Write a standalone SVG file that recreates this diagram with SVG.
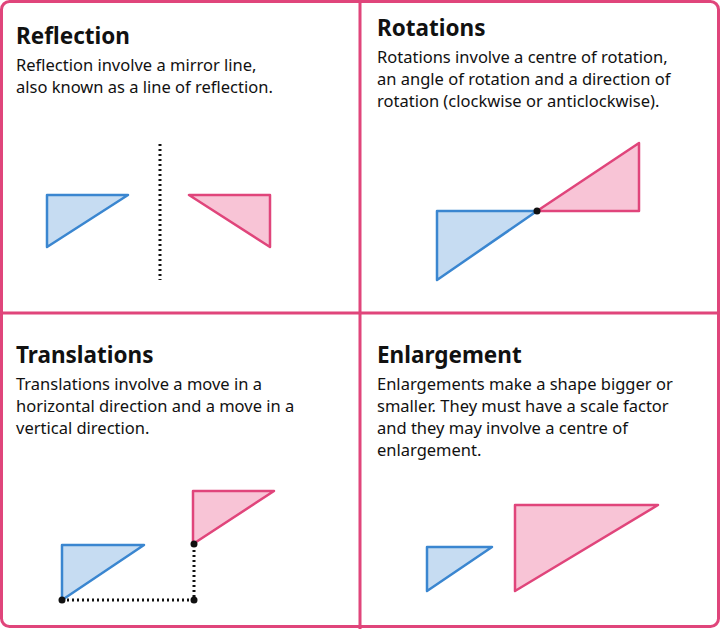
<svg xmlns="http://www.w3.org/2000/svg" width="720" height="629" viewBox="0 0 720 629">
<style>
.t{font-family:"Noto Sans","Liberation Sans",sans-serif;font-weight:bold;font-size:22.5px;fill:#111}
.b{font-family:"Noto Sans","Liberation Sans",sans-serif;font-size:16.5px;fill:#111}
.bl{fill:#c6dcf2;stroke:#3a86d0;stroke-width:2.5;stroke-linejoin:round}
.pk{fill:#f8c4d6;stroke:#e0457b;stroke-width:2.5;stroke-linejoin:round}
.dl{stroke:#111;stroke-width:3;stroke-dasharray:2 3;fill:none}
.fr{fill:none;stroke:#e0457b;stroke-width:3}
</style>
<rect width="720" height="629" fill="#fff"/>
<g id="frame">
<rect class="fr" x="1.5" y="1.5" width="717" height="625" rx="8"/>
<line class="fr" x1="360" y1="0" x2="360" y2="629" stroke-width="2.5"/>
<line class="fr" x1="0" y1="313" x2="720" y2="313" stroke-width="2.5"/>
</g>
<g id="reflection">
<text class="t" x="16" y="44">Reflection</text>
<text class="b" x="16" y="71">Reflection involve a mirror line,</text>
<text class="b" x="16" y="93">also known as a line of reflection.</text>
<polygon class="bl" points="47,195 128,195 47,247"/>
<line class="dl" x1="160" y1="144" x2="160" y2="280"/>
<polygon class="pk" points="189,195 270,195 270,247"/>
</g>
<g id="rotations">
<text class="t" x="377" y="36">Rotations</text>
<text class="b" x="377" y="63">Rotations involve a centre of rotation,</text>
<text class="b" x="377" y="85">an angle of rotation and a direction of</text>
<text class="b" x="377" y="107">rotation (clockwise or anticlockwise).</text>
<polygon class="bl" points="437,211 537,211 437,280"/>
<polygon class="pk" points="537,211 639,211 639,143"/>
<circle cx="537" cy="211" r="3.5" fill="#111"/>
</g>
<g id="translations">
<text class="t" x="16" y="363">Translations</text>
<text class="b" x="16" y="390">Translations involve a move in a</text>
<text class="b" x="16" y="412">horizontal direction and a move in a</text>
<text class="b" x="16" y="434">vertical direction.</text>
<polygon class="bl" points="62,545 144,545 62,600"/>
<polygon class="pk" points="193,491 274,491 193,544"/>
</g>
<g id="connectors">
<polyline class="dl" points="62,600 194,600 194,544"/>
<circle cx="62" cy="600" r="3.5" fill="#111"/>
<circle cx="194" cy="600" r="3.5" fill="#111"/>
<circle cx="194" cy="544" r="3.5" fill="#111"/>
</g>
<g id="enlargement">
<text class="t" x="377" y="363">Enlargement</text>
<text class="b" x="377" y="390">Enlargements make a shape bigger or</text>
<text class="b" x="377" y="412">smaller. They must have a scale factor</text>
<text class="b" x="377" y="434">and they may involve a centre of</text>
<text class="b" x="377" y="456">enlargement.</text>
<polygon class="bl" points="427,547 492,547 427,591"/>
<polygon class="pk" points="515,505 658,505 515,591"/>
</g>
</svg>
